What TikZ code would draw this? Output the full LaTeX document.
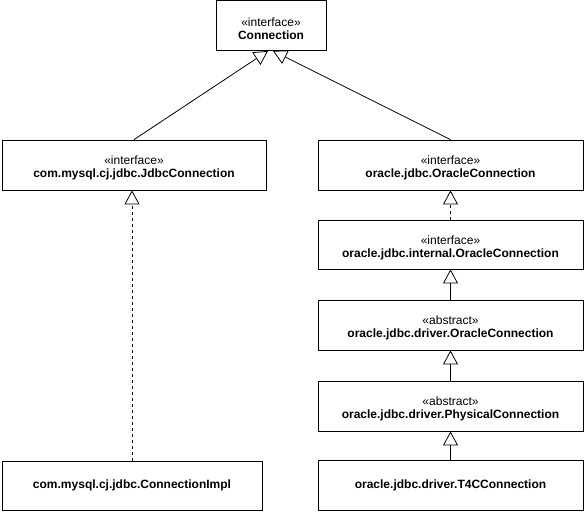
\documentclass[tikz,border=0pt]{standalone}
\usepackage{fontspec}
\setmainfont{Liberation Sans}
\usetikzlibrary{arrows.meta,calc}
\newcommand{\mystereo}[1]{\rule{0pt}{15pt}#1}
\tikzset{
  cls/.style={draw, line width=0.8pt, align=center, inner sep=0pt, fill=white,
    font=\fontsize{12}{13}\selectfont},
  gen/.style={line width=0.8pt, -{Triangle[open, length=14pt, width=15pt, line width=0.8pt]}},
  real/.style={gen, dash pattern=on 3pt off 3pt},
}
\begin{document}
\begin{tikzpicture}[x=1pt,y=1pt]
\useasboundingbox (0,0) rectangle (585,-511);
\node[cls, minimum width=110pt, minimum height=50pt] (conn) at (271,-25.5) {\mystereo{«interface»}\\\textbf{Connection}};
\node[cls, minimum width=264pt, minimum height=50pt] (jdbc) at (134,-165) {\mystereo{«interface»}\\\textbf{com.mysql.cj.jdbc.JdbcConnection}};
\node[cls, minimum width=260pt, minimum height=49pt] (impl) at (132,-485.5) {\textbf{com.mysql.cj.jdbc.ConnectionImpl}};
\node[cls, minimum width=265pt, minimum height=50pt] (oc) at (450.5,-165) {\mystereo{«interface»}\\\textbf{oracle.jdbc.OracleConnection}};
\node[cls, minimum width=265pt, minimum height=49pt] (ioc) at (450.5,-244.5) {\mystereo{«interface»}\\\textbf{oracle.jdbc.internal.OracleConnection}};
\node[cls, minimum width=265pt, minimum height=50pt] (doc) at (450.5,-325) {\mystereo{«abstract»}\\\textbf{oracle.jdbc.driver.OracleConnection}};
\node[cls, minimum width=265pt, minimum height=50pt] (phys) at (450.5,-406) {\mystereo{«abstract»}\\\textbf{oracle.jdbc.driver.PhysicalConnection}};
\node[cls, minimum width=265pt, minimum height=50pt] (t4c) at (450.5,-485) {\textbf{oracle.jdbc.driver.T4CConnection}};
\draw[gen] (jdbc.north) -- ($(conn.south)+(-3,0)$);
\draw[gen] (oc.north) -- ($(conn.south)+(2,0)$);
\draw[real] (impl.north) -- (impl.north |- jdbc.south);
\draw[real] (ioc.north) -- (oc.south);
\draw[gen] (doc.north) -- (ioc.south);
\draw[gen] (phys.north) -- (doc.south);
\draw[gen] (t4c.north) -- (phys.south);
\end{tikzpicture}
\end{document}
